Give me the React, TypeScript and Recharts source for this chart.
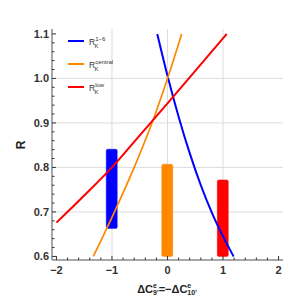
import { ComposedChart, Bar, Line, XAxis, YAxis, CartesianGrid, Cell } from 'recharts';

// R_K curves vs ΔC9' = -ΔC10'
const blueCurve = [
  { x: -0.184, y: 1.1 }, { x: 0, y: 1.006 }, { x: 0.2, y: 0.914 }, { x: 0.4, y: 0.832 },
  { x: 0.6, y: 0.76 }, { x: 0.8, y: 0.698 }, { x: 1.0, y: 0.645 }, { x: 1.19, y: 0.6 },
];
const orangeCurve = [
  { x: -1.337, y: 0.6 }, { x: -1.0, y: 0.688 }, { x: -0.6, y: 0.8 }, { x: -0.3, y: 0.893 },
  { x: 0, y: 1.0 }, { x: 0.256, y: 1.1 },
];
const redCurve = [
  { x: -2.0, y: 0.676 }, { x: -1.5, y: 0.737 }, { x: -1.0, y: 0.8 }, { x: -0.5, y: 0.872 },
  { x: 0, y: 0.944 }, { x: 0.5, y: 1.017 }, { x: 1.066, y: 1.1 },
];

// measured ranges (bars)
const barX = [-1, 0, 1];
const barLow = [0.663, 0.6, 0.6];
const barHigh = [0.841, 0.807, 0.772];
const barColors = ['#0000ff', '#ff8800', '#ff0000'];

const X_MAJOR = [-2, -1, 0, 1, 2];
const X_MINOR = [-1.8, -1.6, -1.4, -1.2, -0.8, -0.6, -0.4, -0.2, 0.2, 0.4, 0.6, 0.8, 1.2, 1.4, 1.6, 1.8];
const Y_MAJOR = [0.6, 0.7, 0.8, 0.9, 1.0, 1.1];
const Y_MINOR = [
  0.62, 0.64, 0.66, 0.68, 0.72, 0.74, 0.76, 0.78, 0.82, 0.84,
  0.86, 0.88, 0.92, 0.94, 0.96, 0.98, 1.02, 1.04, 1.06, 1.08,
];
const X_GRID = [-1, 0, 1];
const Y_GRID = [0.7, 0.8, 0.9, 1.0];

const legendItems = [
  { sup: '1−6', color: '#0000ff' },
  { sup: 'central', color: '#ff8800' },
  { sup: 'low', color: '#ff0000' },
];

const X_DOMAIN: [number, number] = [-2.08, 2.08];
const Y_DOMAIN: [number, number] = [0.592, 1.111];
const X_TICKS = [...X_MAJOR, ...X_MINOR];
const Y_TICKS = [...Y_MAJOR, ...Y_MINOR];

const FRAME = '#8a8a8a';
const TICK = '#333';
const FONT = '"Liberation Sans", Arial, sans-serif';
const BAR_W = 11;
const MAJOR_LEN = 4;
const MINOR_LEN = 2.5;

const barData = barX.map((x, i) => ({ x, range: [barLow[i], barHigh[i]] }));

const labelProps = { fontSize: 11, fontWeight: 700, fill: '#333', fontFamily: FONT };
const fmtX = (v: number) => (v < 0 ? '−' + Math.abs(v) : String(v));

// inward frame ticks, labels only on the major ones
const BottomTick = ({ x, y, payload }: any) => {
  const major = X_MAJOR.includes(payload.value);
  return (
    <g>
      <line x1={x} x2={x} y1={y} y2={y - (major ? MAJOR_LEN : MINOR_LEN)} stroke={TICK} />
      {major && <text x={x} y={y + 13.5} textAnchor="middle" {...labelProps}>{fmtX(payload.value)}</text>}
    </g>
  );
};
const TopTick = ({ x, y, payload }: any) => {
  const major = X_MAJOR.includes(payload.value);
  return <line x1={x} x2={x} y1={y} y2={y + (major ? MAJOR_LEN : MINOR_LEN)} stroke={TICK} />;
};
const LeftTick = ({ x, y, payload }: any) => {
  const major = Y_MAJOR.includes(payload.value);
  return (
    <g>
      <line x1={x} x2={x + (major ? MAJOR_LEN : MINOR_LEN)} y1={y} y2={y} stroke={TICK} />
      {major && <text x={x - 3} y={y + 4} textAnchor="end" {...labelProps}>{payload.value.toFixed(1)}</text>}
    </g>
  );
};
const RightTick = ({ x, y, payload }: any) => {
  const major = Y_MAJOR.includes(payload.value);
  return <line x1={x} x2={x - (major ? MAJOR_LEN : MINOR_LEN)} y1={y} y2={y} stroke={TICK} />;
};

// keep the bar centred on its x value but with a fixed width
const RangeBar = (props: any) => {
  const { x, y, width, height, fill, stroke } = props;
  const cx = x + width / 2;
  return (
    <rect x={cx - BAR_W / 2} y={y} width={BAR_W} height={height} rx={1.5} ry={1.5}
      fill={fill} stroke={stroke} strokeOpacity={0.45} />
  );
};

export default function App() {
  const frameAxis = { stroke: FRAME, strokeWidth: 1.5 };

  return (
    <div style={{ position: 'absolute', left: 0, top: 0, width: 300, height: 302, background: '#fff' }}>
      <ComposedChart
        width={300}
        height={302}
        data={barData}
        margin={{ top: 29, right: 17, bottom: 22, left: 12 }}
      >
        <CartesianGrid
          xAxisId="x"
          yAxisId="y"
          stroke="#dcdcdc"
          verticalValues={X_GRID}
          horizontalValues={Y_GRID}
        />
        <XAxis xAxisId="x" dataKey="x" type="number" domain={X_DOMAIN} allowDataOverflow ticks={X_TICKS}
          interval={0} height={20} axisLine={frameAxis} tickLine={false} tickSize={0} tickMargin={0}
          tick={BottomTick} />
        <XAxis xAxisId="xt" orientation="top" type="number" domain={X_DOMAIN} allowDataOverflow ticks={X_TICKS}
          interval={0} height={0} axisLine={frameAxis} tickLine={false} tickSize={0} tickMargin={0}
          tick={TopTick} />
        <YAxis yAxisId="y" type="number" domain={Y_DOMAIN} allowDataOverflow ticks={Y_TICKS}
          interval={0} width={40} axisLine={frameAxis} tickLine={false} tickSize={0} tickMargin={0}
          tick={LeftTick} />
        <YAxis yAxisId="yr" orientation="right" type="number" domain={Y_DOMAIN} allowDataOverflow ticks={Y_TICKS}
          interval={0} width={0} axisLine={frameAxis} tickLine={false} tickSize={0} tickMargin={0}
          tick={RightTick} />

        <Bar xAxisId="x" yAxisId="y" dataKey="range" shape={RangeBar} isAnimationActive={false}>
          {barData.map((_, i) => (
            <Cell key={`bar-${i}`} fill={barColors[i]} stroke={barColors[i]} />
          ))}
        </Bar>
        <Line xAxisId="x" yAxisId="y" data={blueCurve} dataKey="y" type="monotone" stroke="#0000ff"
          strokeWidth={2} dot={false} isAnimationActive={false} />
        <Line xAxisId="x" yAxisId="y" data={orangeCurve} dataKey="y" type="monotone" stroke="#ff8800"
          strokeWidth={1.7} dot={false} isAnimationActive={false} />
        <Line xAxisId="x" yAxisId="y" data={redCurve} dataKey="y" type="monotone" stroke="#ff0000"
          strokeWidth={2} dot={false} isAnimationActive={false} />
      </ComposedChart>

      <svg width={300} height={302} style={{ position: 'absolute', left: 0, top: 0, pointerEvents: 'none' }}>
        {legendItems.map((it, i) => {
          const y = 41 + i * 23;
          return (
            <g key={it.sup}>
              <line x1={68} x2={84} y1={y} y2={y} stroke={it.color} strokeWidth={2} />
              <text x={89} y={y + 3.5} fontFamily={FONT} fontSize={8.5} fill="#333">
                R
                <tspan fontSize={6} dy={-3.5}>{it.sup}</tspan>
              </text>
              <text x={94.5} y={y + 6.5} fontFamily={FONT} fontSize={6} fill="#333">K</text>
            </g>
          );
        })}
        <text x={21} y={145} transform="rotate(-90 21 145)" textAnchor="middle" dominantBaseline="central"
          fontFamily={FONT} fontSize={12} fontWeight={700} fill="#222">R</text>
        <text x={167} y={292.5} textAnchor="middle" fontFamily={FONT} fontSize={11} fontWeight={700} fill="#222">
          ΔC
          <tspan fontSize={7} dy={-4.5}>e</tspan>
          <tspan fontSize={7} dx={-3.9} dy={7}>9</tspan>
          <tspan fontSize={7}>'</tspan>
          <tspan fontSize={11} dy={-2.5}>=−ΔC</tspan>
          <tspan fontSize={7} dy={-4.5}>e</tspan>
          <tspan fontSize={7} dx={-3.9} dy={7}>10</tspan>
          <tspan fontSize={7}>'</tspan>
        </text>
      </svg>
    </div>
  );
}
